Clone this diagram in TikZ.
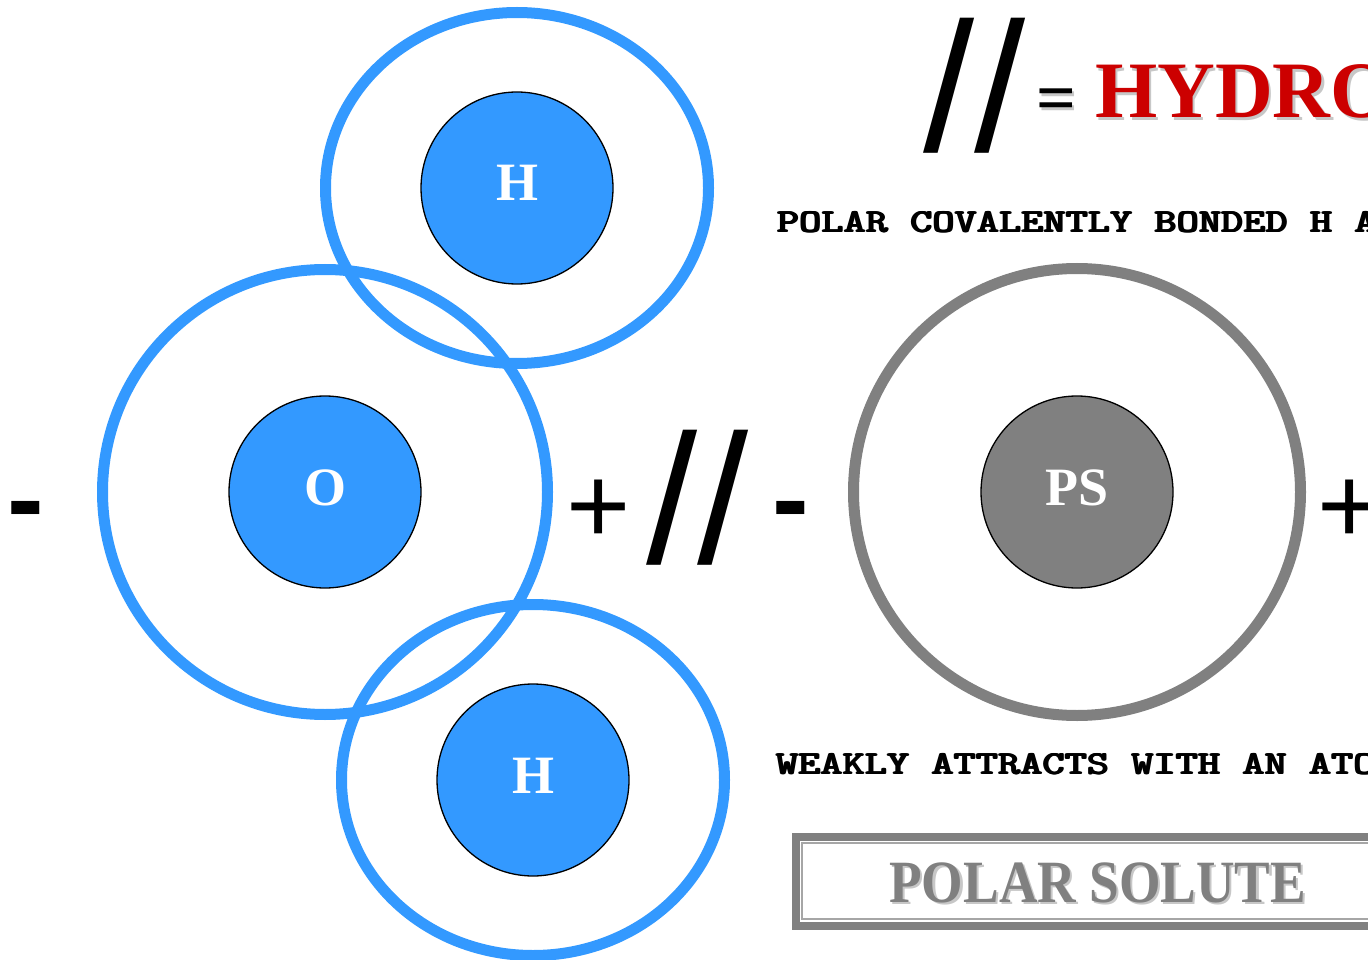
\documentclass[tikz,border=0pt]{standalone}
\usepackage{fontspec}
\setmainfont{Liberation Serif}
\newfontfamily\signfont{Liberation Sans}
\usetikzlibrary{positioning}
\definecolor{waterblue}{HTML}{3399FF}
\definecolor{solutegray}{HTML}{808080}
\definecolor{hbred}{HTML}{CC0000}
\newcommand{\fs}[1]{\fontsize{#1}{#1}\selectfont}
\newcommand{\shadowed}[2]{\rlap{\kern2.5pt\raisebox{-2.5pt}{\color{black!22}#2}}{\color{#1}#2}}
% typewriter line: squat and heavy
\newcommand{\courline}[1]{\scalebox{1}[0.8]{\rlap{#1}\rlap{\kern0.8pt#1}\kern1.6pt#1}}
\tikzset{
  ring/.style={line width=11pt},
  core/.style={circle,draw=black,line width=1.3pt,minimum size=192pt,inner sep=0pt,
    text=white,font=\bfseries\fs{54},text height=36pt,text depth=10pt},
  sgn/.style={inner sep=0pt,anchor=base west,font=\signfont\fs{110}},
  sgnb/.style={inner sep=0pt,anchor=base west,font=\signfont\bfseries\fs{110}},
  slash/.style={inner sep=0pt,anchor=base west,font=\signfont\fs{184}},
  note/.style={inner sep=0pt,anchor=base west,font=\ttfamily\bfseries\fs{42.3}},
  title/.style={inner sep=0pt,anchor=base west,font=\bfseries\fs{#1}},
}
\begin{document}
\begin{tikzpicture}[x=1pt,y=-1pt]
\useasboundingbox (0,0) rectangle (1368,960);
\clip (0,0) rectangle (1368,960);
% water molecule
\node[core,fill=waterblue] (o) at (325,492) {O};
\foreach \n/\x/\y in {h1/517/188,h2/533/780}
  \node[core,fill=waterblue] (\n) at (\x,\y) {H};
\draw[ring,waterblue] (o.center) circle[radius=222.5pt];
\foreach \n in {h1,h2}
  \draw[ring,waterblue] (\n.center) ellipse[x radius=191.5pt,y radius=175.5pt];
% polar solute
\node[core,fill=solutegray] (ps) at (1077,492) {PS};
\draw[ring,solutegray] (ps.center) circle[radius=223.5pt];
% charges and bond
\node[sgnb] (om) at (7,536) {-};
\node[sgn] (op) at (566,543) {+};
\node[slash] (bond) at (646,563) {//};
\node[sgnb] (pm) at (772,536) {-};
\node[sgn] (pp) at (1317,543) {+};
% key
\node[slash] (key) at (923,152) {//};
\node[title=70] (eq) at (1036,122) {\shadowed{black}{=}};
\node[title=80] (hydro) at (1095,118) {\shadowed{hbred}{HYDRO}};
\node[note] (l1) at (776,233) {\courline{POLAR COVALENTLY BONDED H A}};
\node[note] (l2) at (775,774) {\courline{WEAKLY ATTRACTS WITH AN ATO}};
% label box
\draw[solutegray,line width=8.3pt] (796,837) rectangle (1400,926);
\draw[solutegray!70,line width=2.5pt] (802,843) rectangle (1400,919);
\node[title=60] (psl) at (889,902) {\scalebox{0.89}[1]{\shadowed{solutegray}{POLAR SOLUTE}}};
\end{tikzpicture}
\end{document}
